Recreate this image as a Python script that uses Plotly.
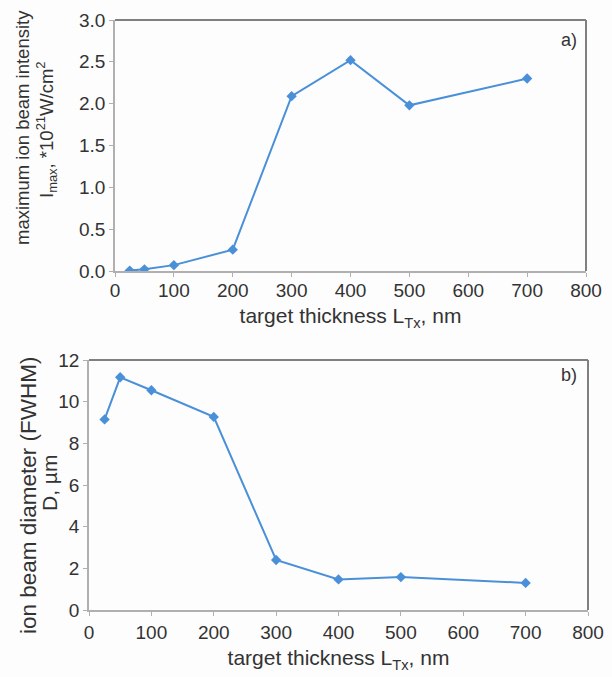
import plotly.graph_objects as go

# Data
thickness_a = [25, 50, 100, 200, 300, 400, 500, 700]
intensity = [0.005, 0.02, 0.07, 0.255, 2.09, 2.52, 1.98, 2.30]

thickness_b = [25, 50, 100, 200, 300, 400, 500, 700]
diameter = [9.15, 11.17, 10.55, 9.27, 2.40, 1.47, 1.58, 1.30]

x_ticks = [0, 100, 200, 300, 400, 500, 600, 700, 800]
ya_ticks = [0.0, 0.5, 1.0, 1.5, 2.0, 2.5, 3.0]
yb_ticks = [0, 2, 4, 6, 8, 10, 12]

W, H = 612, 677
LINE = "#4a90d9"
FONT = "Liberation Sans, Arial, sans-serif"
TXT = "#333333"

def px(x):
    return x / W

def py(y):
    return 1 - y / H

fig = go.Figure()
fig.add_trace(go.Scatter(x=thickness_a, y=intensity, mode="lines+markers",
                         line=dict(color=LINE, width=2),
                         marker=dict(symbol="diamond", size=8, color=LINE),
                         xaxis="x", yaxis="y", showlegend=False))
fig.add_trace(go.Scatter(x=thickness_b, y=diameter, mode="lines+markers",
                         line=dict(color=LINE, width=2),
                         marker=dict(symbol="diamond", size=8, color=LINE),
                         xaxis="x2", yaxis="y2", showlegend=False))

axis_common = dict(showline=True, linecolor="#b0b0b0", linewidth=1.5,
                   ticks="outside", ticklen=4, tickcolor="#b0b0b0", tickwidth=1,
                   showgrid=False, zeroline=False, automargin=False,
                   tickfont=dict(family=FONT, size=19, color=TXT))

xtitle = dict(text="target thickness L<sub>Tx</sub>, nm",
              font=dict(family=FONT, size=21, color=TXT), standoff=9)

fig.update_layout(
    template="none",
    width=W, height=H, autosize=False,
    margin=dict(l=0, r=0, t=0, b=0, pad=0),
    paper_bgcolor="#fdfdfd", plot_bgcolor="#fdfdfd",
    font=dict(family=FONT, color=TXT),
    xaxis=dict(domain=[px(115), px(586)], range=[0, 800], tickvals=x_ticks,
               anchor="y", title=xtitle, ticklabelstandoff=-3, **axis_common),
    yaxis=dict(domain=[py(271), py(20)], range=[0, 3.0], tickvals=ya_ticks,
               ticktext=[f"{v:.1f}" for v in ya_ticks], anchor="x",
               **axis_common),
    xaxis2=dict(domain=[px(89), px(588)], range=[0, 800], tickvals=x_ticks,
                anchor="y2", title=xtitle, **axis_common),
    yaxis2=dict(domain=[py(610), py(360)], range=[0, 12], tickvals=yb_ticks,
                anchor="x2", **axis_common),
)

# darker top/right frame lines
for xr, yr in (("x domain", "y domain"), ("x2 domain", "y2 domain")):
    fig.add_shape(type="line", xref=xr, yref=yr, x0=0, x1=1, y0=1, y1=1,
                  line=dict(color="#808080", width=2))
    fig.add_shape(type="line", xref=xr, yref=yr, x0=1, x1=1, y0=0, y1=1,
                  line=dict(color="#808080", width=2))

# panel labels
fig.add_annotation(xref="paper", yref="paper", x=px(579), y=py(40),
                   text="a)", showarrow=False, xanchor="right", yanchor="middle",
                   font=dict(family=FONT, size=18, color=TXT))
fig.add_annotation(xref="paper", yref="paper", x=px(579), y=py(375),
                   text="b)", showarrow=False, xanchor="right", yanchor="middle",
                   font=dict(family=FONT, size=18, color=TXT))

# y-axis titles (two lines each)
def vtext(text, x, y, size):
    fig.add_annotation(xref="paper", yref="paper", x=px(x), y=py(y),
                       text=text, showarrow=False, textangle=-90,
                       xanchor="center", yanchor="middle",
                       font=dict(family=FONT, size=size, color=TXT))

vtext("maximum ion beam intensity", 22, 128, 18.5)
vtext("I<sub>max</sub>, *10<sup>21</sup>W/cm<sup>2</sup>", 46, 130, 18.5)
vtext("ion beam diameter (FWHM)", 28, 495, 22.5)
vtext("D, µm", 49, 483, 21)

fig.write_html("out.html")
